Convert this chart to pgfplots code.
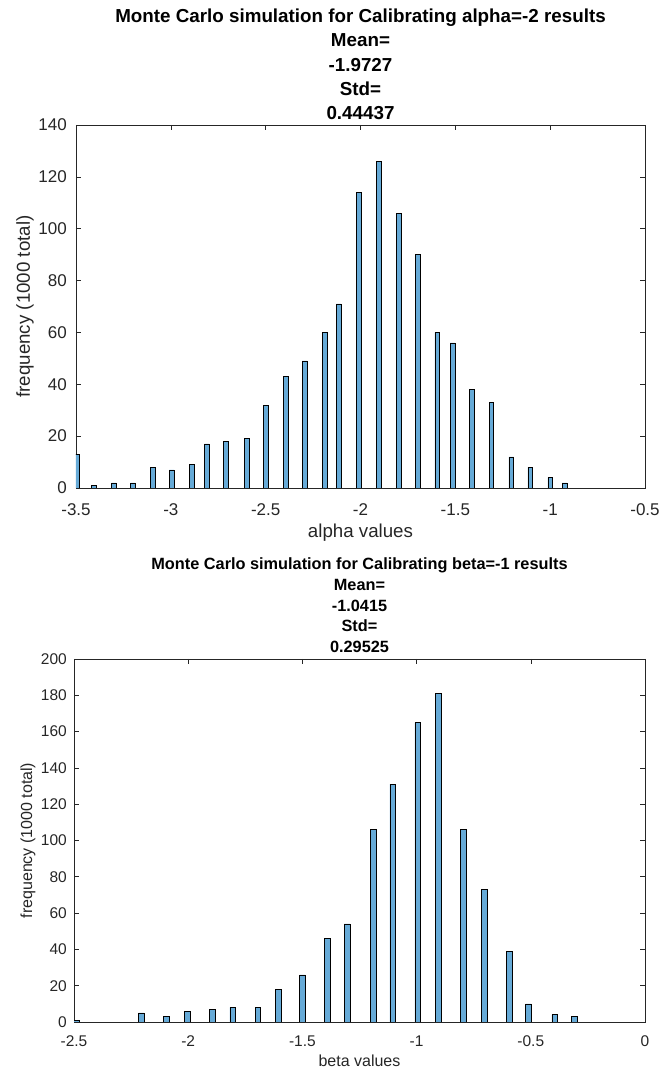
\documentclass[border=0pt]{standalone}
\usepackage{fontspec}
\setmainfont{Liberation Sans}
\usepackage{pgfplots}
\pgfplotsset{compat=1.18}
\definecolor{barfill}{RGB}{102,170,215}
\definecolor{axgray}{RGB}{38,38,38}

\pgfplotsset{
  mlaxis/.style={
    scale only axis,
    anchor=south west,
    axis line style={axgray, line width=0.6pt},
    tick style={axgray, line width=0.6pt},
    tick align=inside,
    major tick length=5pt,
    xtick pos=both, ytick pos=both,
    scaled ticks=false,
    /pgf/number format/assume math mode=true,
    /pgf/number format/1000 sep={},
    ticklabel style={text=axgray},
    yticklabel style={anchor=east, inner sep=0pt},
    xticklabel style={anchor=base, inner sep=0pt},
    label style={text=axgray},
    title style={at={(0.5,1)}, anchor=south, inner sep=0pt, align=center, text=black},
    xlabel style={at={(axis description cs:0.5,0)}, anchor=base},
  },
  mlbar/.style={ybar, bar width=0.025, fill=barfill, draw=black, line width=0.5pt},
}

\begin{document}
\begin{tikzpicture}
\path[use as bounding box] (0,0) rectangle (663pt,1074pt);

% alpha
\begin{axis}[
  mlaxis,
  at={(76pt,586pt)},
  width=569pt, height=363pt,
  xmin=-3.5, xmax=-0.5, ymin=0, ymax=140,
  xtick={-3.5,-3,...,-0.5}, ytick={0,20,...,140},
  ticklabel style={font=\fontsize{17}{20}\selectfont},
  xticklabel style={yshift=-28pt},
  yticklabel style={xshift=-9pt},
  label style={font=\fontsize{18.7}{22}\selectfont},
  xlabel={alpha values},
  xlabel style={yshift=-50pt},
  ylabel={frequency (1000 total)},
  ylabel style={at={([xshift=-51pt]axis description cs:0,0.5)}, anchor=center, rotate=0},
  title={Monte Carlo simulation for Calibrating alpha=-2 results\\Mean=\\-1.9727\\Std=\\0.44437},
  title style={font=\fontsize{18.8}{24.2}\selectfont\bfseries, yshift=-1pt},
]
\addplot[mlbar] coordinates {
  (-3.495,13) (-3.405,1) (-3.300,2) (-3.200,2) (-3.095,8) (-2.995,7)
  (-2.890,9) (-2.810,17) (-2.710,18) (-2.600,19) (-2.500,32) (-2.395,43)
  (-2.295,49) (-2.190,60) (-2.115,71) (-2.010,114) (-1.905,126) (-1.800,106)
  (-1.700,90) (-1.595,60) (-1.515,56) (-1.415,38) (-1.310,33) (-1.205,12)
  (-1.105,8) (-1.000,4) (-0.925,2)
};
\end{axis}

% beta
\begin{axis}[
  mlaxis,
  at={(74pt,52pt)},
  width=571pt, height=363pt,
  xmin=-2.5, xmax=0, ymin=0, ymax=200,
  xtick={-2.5,-2,...,0}, ytick={0,20,...,200},
  ticklabel style={font=\fontsize{15.5}{18}\selectfont},
  xticklabel style={yshift=-24pt},
  yticklabel style={xshift=-7pt},
  label style={font=\fontsize{16}{19}\selectfont},
  xlabel={beta values},
  xlabel style={yshift=-44.5pt},
  ylabel={frequency (1000 total)},
  ylabel style={at={([xshift=-46pt]axis description cs:0,0.5)}, anchor=center, rotate=0},
  title={Monte Carlo simulation for Calibrating beta=-1 results\\Mean=\\-1.0415\\Std=\\0.29525},
  title style={font=\fontsize{16.3}{20.7}\selectfont\bfseries, yshift=0pt},
]
\addplot[mlbar] coordinates {
  (-2.490,1) (-2.205,5) (-2.095,3) (-2.005,6) (-1.895,7) (-1.805,8)
  (-1.695,8) (-1.605,18) (-1.500,26) (-1.390,46) (-1.305,54) (-1.190,106)
  (-1.105,131) (-0.995,165) (-0.905,181) (-0.795,106) (-0.705,73)
  (-0.595,39) (-0.510,10) (-0.395,4) (-0.310,3)
};
\end{axis}
\end{tikzpicture}
\end{document}
